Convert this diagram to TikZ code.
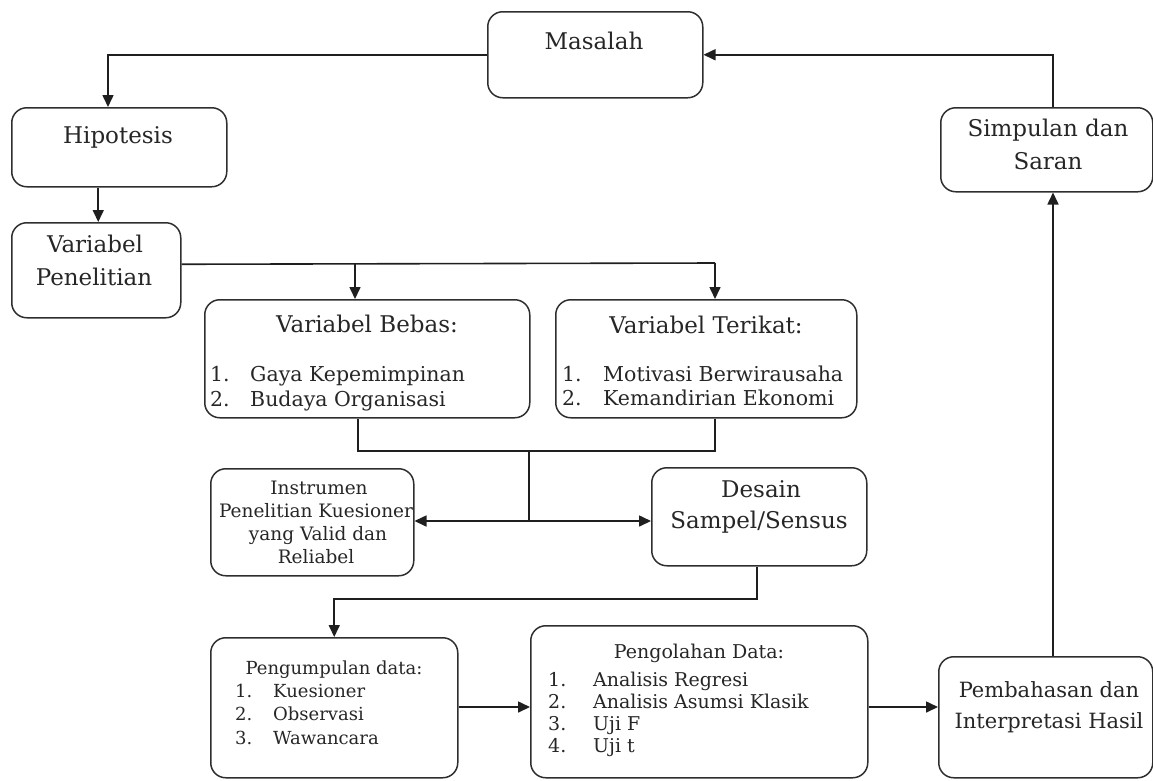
\documentclass[tikz,border=0pt]{standalone}
\usepackage{fontspec}
\setmainfont{DejaVu Serif}
\usetikzlibrary{arrows.meta}
\begin{document}
\begin{tikzpicture}[x=1pt,y=-1pt,
  box/.style={draw=black!82, line width=1.5pt, rounded corners=15pt, anchor=north west, inner sep=0pt},
  txt/.style={inner sep=0pt, text=black!85, anchor=base},
  big/.style={txt, font=\fontsize{23}{27}\selectfont},
  item/.style={txt, anchor=base west, font=\fontsize{20.5}{24}\selectfont},
  bahasf/.style={txt, font=\fontsize{21}{25}\selectfont},
  instr/.style={txt, font=\fontsize{18.5}{22}\selectfont},
  kf/.style={txt, font=\fontsize{18}{22}\selectfont},
  of/.style={txt, font=\fontsize{19}{23}\selectfont},
  conn/.style={line width=1.6pt, draw=black!88},
  arr/.style={conn, -{Triangle[length=12pt,width=11pt]}}]
\useasboundingbox (0,0) rectangle (1153,780);

% boxes
\node[box, minimum width=215pt, minimum height=86pt]  (masalah)   at (487,11)  {};
\node[box, minimum width=215pt, minimum height=79pt]  (hipotesis) at (11,107)  {};
\node[box, minimum width=169pt, minimum height=95pt]  (varpen)    at (11,222)  {};
\node[box, minimum width=325pt, minimum height=118pt] (bebas)     at (204,299) {};
\node[box, minimum width=301pt, minimum height=118pt] (terikat)   at (555,299) {};
\node[box, minimum width=203pt, minimum height=107pt] (instrumen) at (210,468) {};
\node[box, minimum width=215pt, minimum height=98pt]  (desain)    at (651,467) {};
\node[box, minimum width=247pt, minimum height=140pt] (kumpul)    at (210,637) {};
\node[box, minimum width=337pt, minimum height=152pt] (olah)      at (530,625) {};
\node[box, minimum width=214pt, minimum height=121pt] (bahas)     at (938,656) {};
\node[box, minimum width=212pt, minimum height=84pt]  (simpulan)  at (940,107) {};

% texts
\node[big] (tMasalah) at (594,49) {Masalah};
\node[big] (tHipo) at (118,143) {Hipotesis};
\node[big] (tVar1) at (95,252) {Variabel};
\node[big] (tVar2) at (94,285) {Penelitian};

\node[big] (tBebas) at (367,332) {Variabel Bebas:};
\node[item] (bN1) at (210,381) {1.};
\node[item] (bI1) at (250,381) {Gaya Kepemimpinan};
\node[item] (bN2) at (210,406) {2.};
\node[item] (bI2) at (250,406) {Budaya Organisasi};

\node[big] (tTerikat) at (706,333) {Variabel Terikat:};
\node[item] (tN1) at (562,381) {1.};
\node[item] (tI1) at (603,381) {Motivasi Berwirausaha};
\node[item] (tN2) at (562,405) {2.};
\node[item] (tI2) at (603,405) {Kemandirian Ekonomi};

\node[instr] (iL1) at (319,494) {Instrumen};
\node[instr] (iL2) at (316,517) {Penelitian Kuesioner};
\node[instr] (iL3) at (318,540) {yang Valid dan};
\node[instr] (iL4) at (316,563) {Reliabel};

\node[big] (dL1) at (761,497) {Desain};
\node[big] (dL2) at (759,528) {Sampel/Sensus};

\node[kf] (kT) at (334,674) {Pengumpulan data:};
\node[kf, anchor=base west] (kN1) at (235,697) {1.};
\node[kf, anchor=base west] (kI1) at (273,697) {Kuesioner};
\node[kf, anchor=base west] (kN2) at (235,720) {2.};
\node[kf, anchor=base west] (kI2) at (273,720) {Observasi};
\node[kf, anchor=base west] (kN3) at (235,744) {3.};
\node[kf, anchor=base west] (kI3) at (273,744) {Wawancara};

\node[of] (oT) at (699,658) {Pengolahan Data:};
\node[of, anchor=base west] (oN1) at (548,686) {1.};
\node[of, anchor=base west] (oI1) at (593,686) {Analisis Regresi};
\node[of, anchor=base west] (oN2) at (548,708) {2.};
\node[of, anchor=base west] (oI2) at (593,708) {Analisis Asumsi Klasik};
\node[of, anchor=base west] (oN3) at (548,730) {3.};
\node[of, anchor=base west] (oI3) at (593,730) {Uji F};
\node[of, anchor=base west] (oN4) at (548,752) {4.};
\node[of, anchor=base west] (oI4) at (593,752) {Uji t};

\node[bahasf] (pL1) at (1049,697) {Pembahasan dan};
\node[bahasf] (pL2) at (1049,728) {Interpretasi Hasil};

\node[big] (sL1) at (1048,136) {Simpulan dan};
\node[big] (sL2) at (1048,169) {Saran};

% routing points
\coordinate (hipoTop) at (108,107);
\coordinate (split1) at (355,263);
\coordinate (split2) at (715,263);
\coordinate (jA) at (358,451);
\coordinate (jB) at (715,451);
\coordinate (jM) at (529,451);
\coordinate (jD) at (529,521);
\coordinate (dB) at (757,599);
\coordinate (rowY) at (0,707);
\coordinate (vline) at (1053,400);

% connectors
\draw[arr] (masalah.west) -| (hipoTop);
\draw[arr] ([xshift=-21pt]hipotesis.south) -- ([xshift=2pt]varpen.north);
\draw[conn] ([yshift=6pt]varpen.east) -- (split2);
\draw[arr] (split1) -- (split1 |- bebas.north);
\draw[arr] (split2) -- (split2 |- terikat.north);
\draw[conn] (jA |- bebas.south) -- (jA) -- (jB) -- (jB |- terikat.south);
\draw[conn] (jM) -- (jD);
\draw[arr] (jD) -- (jD -| instrumen.east);
\draw[arr] (jD) -- (jD -| desain.west);
\draw[arr] (dB |- desain.south) -- (dB) -| (kumpul.north);
\draw[arr] (rowY -| kumpul.east) -- (rowY -| olah.west);
\draw[arr] (rowY -| olah.east) -- (rowY -| bahas.west);
\draw[arr] (bahas.north -| vline) -- (simpulan.south -| vline);
\draw[arr] (simpulan.north -| vline) |- (masalah.east);
\end{tikzpicture}
\end{document}
